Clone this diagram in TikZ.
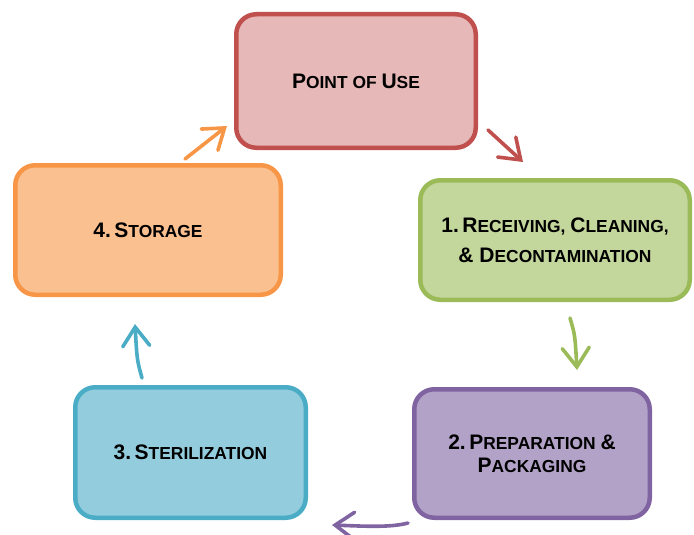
\documentclass[tikz,border=0pt]{standalone}
\usepackage{fontspec}
\setmainfont{Liberation Sans}
\usetikzlibrary{arrows.meta}
\definecolor{redfill}{HTML}{E6B8B7}\definecolor{redline}{HTML}{C0504D}
\definecolor{grnfill}{HTML}{C3D69B}\definecolor{grnline}{HTML}{9BBB59}
\definecolor{purfill}{HTML}{B3A2C7}\definecolor{purline}{HTML}{8064A2}
\definecolor{cyafill}{HTML}{93CDDD}\definecolor{cyaline}{HTML}{4BACC6}
\definecolor{orafill}{HTML}{FAC090}\definecolor{oraline}{HTML}{F79646}
\newcommand\Bg[1]{{\fontsize{21}{30}\selectfont #1}}
\begin{document}
\begin{tikzpicture}[x=1pt,y=-1pt,
  stagebox/.style={rectangle, rounded corners=20pt, line width=4.5pt, inner sep=0pt,
    align=center, font=\bfseries\fontsize{17.4}{30}\selectfont},
  cyclearrow/.style={line width=3.6pt, line cap=round,
    -{Straight Barb[length=19pt,width=27pt,line cap=round]}}]
\useasboundingbox (0,0) rectangle (694,535);
\node[stagebox, draw=redline, fill=redfill, minimum width=239.5pt, minimum height=133.5pt]
  (use) at (356,81) {\Bg{P}OINT OF \Bg{U}SE};
\node[stagebox, draw=grnline, fill=grnfill, minimum width=269.5pt, minimum height=119.5pt]
  (rec) at (555,240) {\Bg{1.\,R}ECEIVING, \Bg{C}LEANING,\\\Bg{\& D}ECONTAMINATION};
\node[stagebox, draw=purline, fill=purfill, minimum width=235.5pt, minimum height=128.5pt,
  font=\bfseries\fontsize{17.4}{23}\selectfont]
  (prep) at (532,453.5) {\Bg{2.\,P}REPARATION \Bg{\&}\\\Bg{P}ACKAGING};
\node[stagebox, draw=cyaline, fill=cyafill, minimum width=230.5pt, minimum height=130.5pt]
  (ster) at (190.5,452.5) {\Bg{3.\,S}TERILIZATION};
\node[stagebox, draw=oraline, fill=orafill, minimum width=265.5pt, minimum height=129.5pt]
  (stor) at (148,230) {\Bg{4.\,S}TORAGE};
\coordinate (a1s) at (488,130); \coordinate (a1e) at (523,162);
\coordinate (a2s) at (570,318); \coordinate (a2e) at (577,370);
\coordinate (a3s) at (408,523); \coordinate (a3e) at (332,525);
\coordinate (a4s) at (142,378); \coordinate (a4e) at (135,324);
\coordinate (a5s) at (185,159); \coordinate (a5e) at (227,126);
\draw[cyclearrow, redline] (a1s) -- (a1e);
\draw[cyclearrow, grnline] (a2s) .. controls (575,335) .. (a2e);
\draw[cyclearrow, purline] (a3s) .. controls (390,528) and (360,526) .. (a3e);
\draw[cyclearrow, cyaline] (a4s) .. controls (137,360) .. (a4e);
\draw[cyclearrow, oraline] (a5s) -- (a5e);
\end{tikzpicture}
\end{document}
